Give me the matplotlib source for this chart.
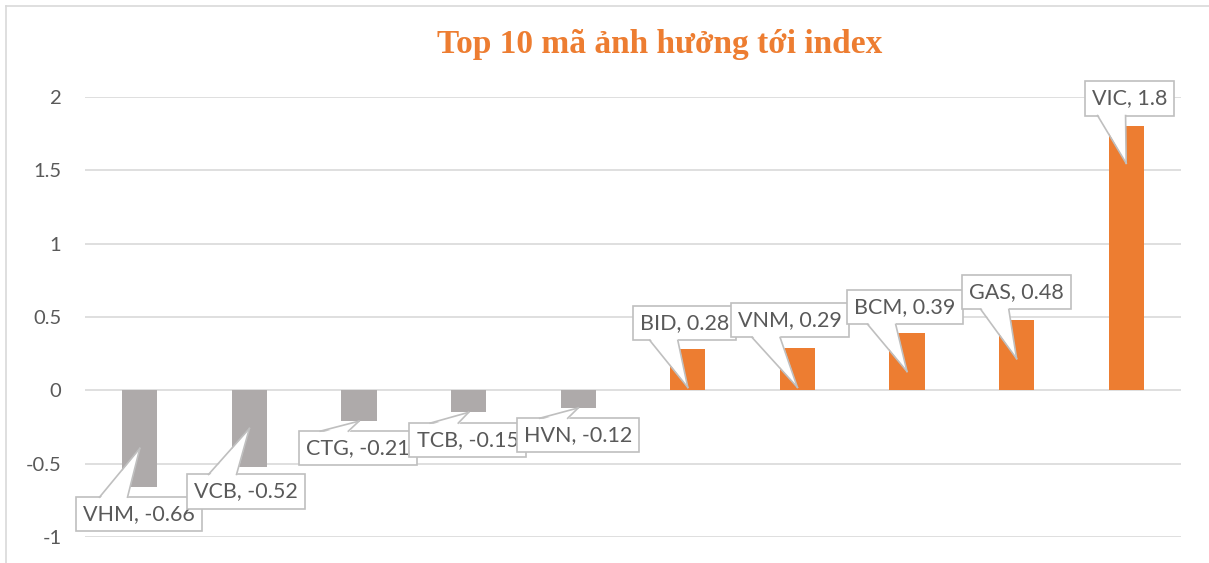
import matplotlib.pyplot as plt
from matplotlib.lines import Line2D
from matplotlib.patches import Polygon

# data
tickers = ["VHM", "VCB", "CTG", "TCB", "HVN", "BID", "VNM", "BCM", "GAS", "VIC"]
impact = [-0.66, -0.52, -0.21, -0.15, -0.12, 0.28, 0.29, 0.39, 0.48, 1.8]

# callout layout (label box centre and pointer tip)
label_dx = [-0.01, -0.03, -0.01, -0.01, 0.0, -0.03, -0.07, -0.02, 0.0, 0.03]
label_y = [-0.845, -0.69, -0.395, -0.34, -0.307, 0.457, 0.477, 0.566, 0.668, 1.99]
tip_frac = [0.6, 0.5, 1.0, 1.0, 1.0, 0.07, 0.07, 0.33, 0.45, 0.86]

orange = "#ED7D31"
grey = "#AEAAAA"
txt = "#595959"
edge = "#BFBFBF"

plt.rcParams['font.family'] = ['Lato', 'DejaVu Sans']

fig = plt.figure(figsize=(12.09, 5.63), dpi=100)
ax = fig.add_axes([85 / 1209, 1 - 537 / 563, (1181 - 85) / 1209, 440 / 563])

x = range(len(tickers))
colors = [orange if v > 0 else grey for v in impact]
ax.bar(x, impact, width=0.32, color=colors, zorder=2)

ax.set_xlim(-0.5, len(tickers) - 0.5)
ax.set_ylim(-1, 2)
ax.set_yticks([-1, -0.5, 0, 0.5, 1, 1.5, 2])
ax.set_yticklabels(["-1", "-0.5", "0", "0.5", "1", "1.5", "2"])
ax.set_xticks([])
ax.tick_params(axis='y', length=0, pad=17, labelsize=14.5, labelcolor=txt)
ax.grid(axis='y', color="#D9D9D9", linewidth=1.2, zorder=0)
for s in ax.spines.values():
    s.set_visible(False)

labels = []
for i, (name, v) in enumerate(zip(tickers, impact)):
    t = ax.text(i + label_dx[i], label_y[i], f"{name}, {v:g}",
                ha='center', va='center', fontsize=15.5, color=txt, zorder=5 + i,
                bbox=dict(boxstyle="square,pad=0.33", fc="white", ec=edge, lw=1.2))
    labels.append(t)

# callout pointers, drawn in pixel space from the box edge to the bar
fig.canvas.draw()
rend = fig.canvas.get_renderer()
inv = ax.transData.inverted()
for i, (t, v) in enumerate(zip(labels, impact)):
    bb = t.get_bbox_patch().get_window_extent(rend)
    tx, ty = ax.transData.transform((i, v * tip_frac[i]))
    if ty > bb.y1:
        ey, inside = bb.y1, -2
    else:
        ey, inside = bb.y0, 2
    bx = bb.x0 + 0.3 * bb.width
    hw = 14
    fill = inv.transform([(bx - hw, ey + inside), (bx + hw, ey + inside), (tx, ty)])
    ax.add_patch(Polygon(fill, closed=True, fc="white", ec="none", zorder=5 + i + 0.5))
    for sx in (bx - hw, bx + hw):
        p = inv.transform([(sx, ey), (tx, ty)])
        ax.add_line(Line2D(p[:, 0], p[:, 1], color=edge, lw=1.2, zorder=5 + i + 0.6))

fig.text(660 / 1209, 1 - 53.5 / 563, "Top 10 mã ảnh hưởng tới index",
         ha='center', va='baseline', fontsize=24, fontweight='bold',
         color=orange, family=['Liberation Serif', 'DejaVu Serif'])

# chart area border (left and top edges visible in the picture)
fig.add_artist(Line2D([6 / 1209, 6 / 1209], [0, 1 - 6 / 563], color="#D9D9D9", lw=1.2))
fig.add_artist(Line2D([6 / 1209, 1], [1 - 6 / 563, 1 - 6 / 563], color="#D9D9D9", lw=1.2))

fig.savefig("out.png", dpi=100)
